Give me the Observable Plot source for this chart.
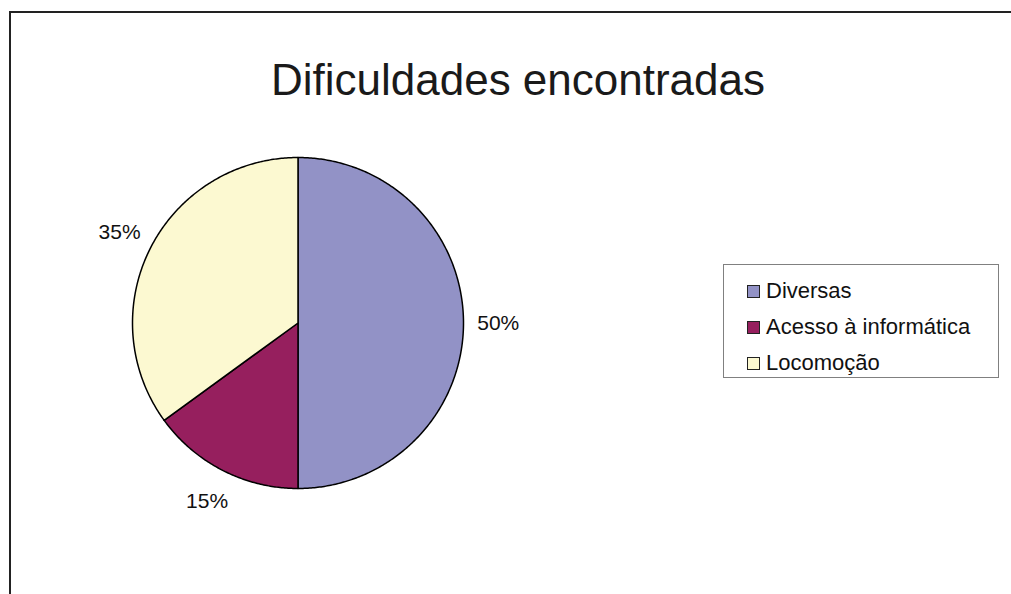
<!DOCTYPE html>
<html>
<head>
<meta charset="utf-8">
<script src="https://cdn.jsdelivr.net/npm/d3@7"></script>
<script src="https://cdn.jsdelivr.net/npm/@observablehq/plot@0.6"></script>
<style>
  html, body { margin: 0; padding: 0; background: #fff; }
  #wrap { position: relative; width: 1011px; height: 594px; overflow: hidden; font-family: "Liberation Sans", Arial, sans-serif; }
  #chart { position: absolute; left: 0; top: 0; }
  #frame { position: absolute; left: 9px; top: 11px; width: 1100px; height: 700px; border-left: 2px solid #222; border-top: 2px solid #222; pointer-events: none; }
  #title { position: absolute; left: 0; width: 1036px; top: 58px; text-align: center; font-size: 44px; line-height: 44px; color: #1a1a1a; white-space: nowrap; }
  #legend { position: absolute; left: 723px; top: 264px; width: 274px; height: 112px; border: 1px solid #808080; background: #fff; box-sizing: content-box; }
  .row { position: absolute; left: 0; height: 36px; display: flex; align-items: center; font-size: 22px; line-height: 36px; color: #111; white-space: nowrap; }
  .sw { width: 11px; height: 11px; border: 1px solid #222; margin-left: 23px; margin-right: 6px; }
</style>
</head>
<body>
<div id="wrap">
  <div id="chart"></div>
  <div id="frame"></div>
  <div id="title"></div>
  <div id="legend"></div>
</div>
<script>
const title = "Dificuldades encontradas";
const categories = ["Diversas", "Acesso à informática", "Locomoção"];
const values = [50, 15, 35];
const labels = ["50%", "15%", "35%"];
const colors = ["#9292c6", "#961f5e", "#fcf9d1"];

const cx = 297.5, cy = 322.5, r = 165.5;

const arcs = d3.pie().sort(null).value(d => d)(values);

// polygon points for each slice (unit circle space, angles clockwise from top)
const slices = arcs.map((a, i) => {
  const pts = [{x: 0, y: 0}];
  const n = Math.max(2, Math.ceil((a.endAngle - a.startAngle) / 0.01));
  for (let k = 0; k <= n; k++) {
    const t = a.startAngle + (a.endAngle - a.startAngle) * k / n;
    pts.push({x: Math.sin(t), y: Math.cos(t)});
  }
  pts.push({x: 0, y: 0});
  return pts;
});

const labelData = arcs.map((a, i) => {
  const m = (a.startAngle + a.endAngle) / 2;
  return {x: 1.21 * Math.sin(m), y: 1.21 * Math.cos(m), text: labels[i]};
});

const plot = Plot.plot({
  width: 1011,
  height: 594,
  margin: 0,
  x: {domain: [-1, 1], range: [cx - r, cx + r], axis: null},
  y: {domain: [-1, 1], range: [cy + r, cy - r], axis: null},
  style: {background: "transparent", fontFamily: "'Liberation Sans', Arial, sans-serif"},
  marks: [
    ...slices.map((pts, i) => Plot.line(pts, {
      x: "x", y: "y", fill: colors[i], stroke: "#000", strokeWidth: 1.5, curve: "linear", strokeLinejoin: "round"
    })),
    Plot.text(labelData, {x: "x", y: "y", text: "text", fontSize: 21, fill: "#111", textAnchor: "middle", lineAnchor: "middle"})
  ]
});
document.getElementById("chart").appendChild(plot);

document.getElementById("title").textContent = title;

const legend = document.getElementById("legend");
categories.forEach((c, i) => {
  const row = document.createElement("div");
  row.className = "row";
  row.style.top = (8 + i * 36) + "px";
  const sw = document.createElement("div");
  sw.className = "sw";
  sw.style.background = colors[i];
  const tx = document.createElement("span");
  tx.textContent = c;
  row.appendChild(sw);
  row.appendChild(tx);
  legend.appendChild(row);
});
</script>
</body>
</html>
